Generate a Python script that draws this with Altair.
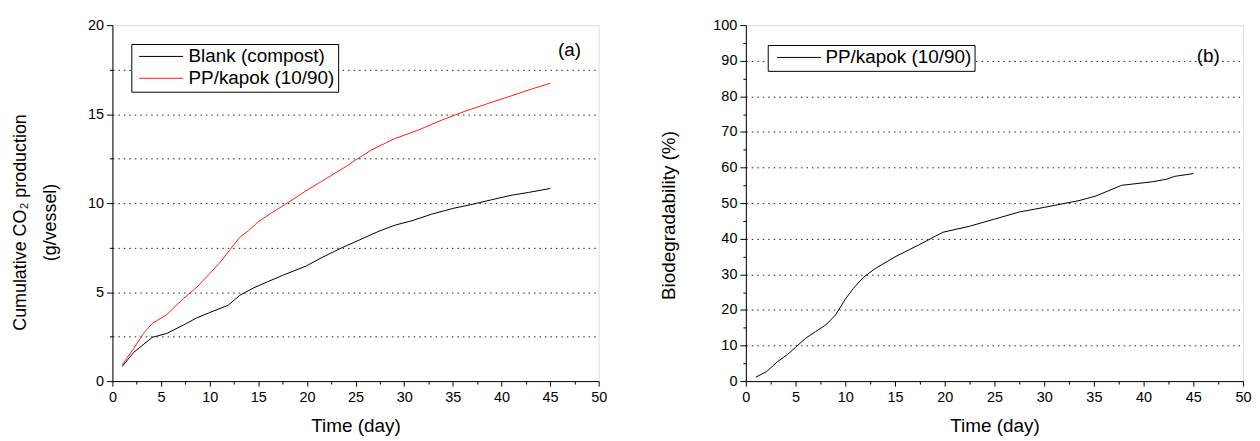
import altair as alt
import pandas as pd

# ---------------- data ----------------
blank_days = [1, 2.2, 4.1, 5.6, 7.3, 8.7, 10, 11.9, 13.1, 14.5, 15.9, 17.5, 19.9, 21.6,
              23.7, 25.4, 27.4, 29.1, 30.8, 32.9, 35, 37, 39, 41.1, 42.8, 45]
blank_co2 = [0.82, 1.62, 2.46, 2.68, 3.15, 3.56, 3.85, 4.26, 4.82, 5.23, 5.57, 5.94, 6.46, 6.96,
             7.52, 7.93, 8.42, 8.77, 9.01, 9.39, 9.70, 9.93, 10.19, 10.45, 10.60, 10.82]

pp_days = [1, 2.2, 3.2, 4.1, 5.6, 7.3, 8.7, 9.9, 11.1, 12.1, 13.1, 14, 15, 16.2, 17.4, 18.6,
           19.9, 21.3, 22.7, 24, 25, 26.6, 29, 31.4, 33.8, 36.3, 38.7, 41.1, 43.1, 45]
pp_co2 = [0.91, 1.84, 2.68, 3.24, 3.74, 4.64, 5.29, 5.98, 6.69, 7.39, 8.08, 8.45, 8.96, 9.39,
          9.80, 10.22, 10.69, 11.15, 11.62, 12.05, 12.42, 12.97, 13.62, 14.09, 14.65, 15.17,
          15.61, 16.04, 16.41, 16.73]

bio_days = [1, 2.1, 3.2, 4.2, 5, 6, 7, 8, 9, 10, 10.8, 11.8, 13, 15, 17.5, 19.8, 22.5, 25,
            27.5, 30, 33.5, 35.2, 37.8, 40.9, 42.3, 43.1, 45]
bio_pct = [1.1, 2.7, 5.5, 7.5, 9.5, 12.0, 13.9, 15.7, 18.5, 23.0, 26.0, 29.1, 31.6, 34.9, 38.4,
           41.8, 43.5, 45.5, 47.5, 48.8, 50.7, 52.0, 55.0, 56.0, 56.7, 57.5, 58.3]

series_a = ["Blank (compost)", "PP/kapok (10/90)"]
colors_a = ["#000000", "#ff1a1a"]
series_b = ["PP/kapok (10/90)"]
colors_b = ["#000000"]

x_ticks = [0, 2.5, 5, 7.5, 10, 12.5, 15, 17.5, 20, 22.5, 25, 27.5, 30, 32.5, 35, 37.5, 40,
           42.5, 45, 47.5, 50]
ya_ticks = [0, 2.5, 5, 7.5, 10, 12.5, 15, 17.5, 20]
yb_ticks = [0, 5, 10, 15, 20, 25, 30, 35, 40, 45, 50, 55, 60, 65, 70, 75, 80, 85, 90, 95, 100]

panel_labels = ["(a)", "(b)"]
label_a_pos = [47.0, 18.6]
label_b_pos = [46.5, 91.3]

FONT = "Liberation Sans"

df_a = pd.concat([
    pd.DataFrame({"day": blank_days, "value": blank_co2, "series": series_a[0]}),
    pd.DataFrame({"day": pp_days, "value": pp_co2, "series": series_a[1]}),
])
df_b = pd.DataFrame({"day": bio_days, "value": bio_pct, "series": series_b[0]})


def x_axis():
    return alt.Axis(
        values=x_ticks, tickCount=100, title="Time (day)", grid=False,
        labelExpr="datum.value % 5 === 0 ? format(datum.value, 'd') : ''", labelOverlap=False,
        tickSize={"condition": {"test": "datum.value % 5 === 0", "value": 5}, "value": 3},
        labelFont=FONT, labelFontSize=14.5, labelColor="black", labelPadding=5,
        titleFont=FONT, titleFontSize=19, titleFontWeight="normal", titleColor="black",
        titlePadding=12, domainColor="black", tickColor="black", labelFlush=False,
    )


def y_axis(vals, step, top, title, title_pad, title_y, title_size, grid_step):
    return alt.Axis(
        values=vals, tickCount=100, title=title,
        labelExpr=f"datum.value % {step} === 0 ? format(datum.value, 'd') : ''", labelOverlap=False,
        tickSize={"condition": {"test": f"datum.value % {step} === 0", "value": 6}, "value": 3},
        grid=True, gridColor="#222", gridDash=[1.5, 4], gridWidth=1,
        gridOpacity={"condition": {"test": f"datum.value === 0 || datum.value === {top} || "
                                           f"datum.value % {grid_step} !== 0",
                                   "value": 0},
                     "value": 1},
        labelFont=FONT, labelFontSize=14.5, labelColor="black", labelPadding=3,
        titleFont=FONT, titleFontSize=title_size, titleFontWeight="normal", titleColor="black",
        titlePadding=title_pad, titleY=title_y, titleLineHeight=30,
        domainColor="black", tickColor="black", labelFlush=False,
    )


def legend(lx, ly, sym_off, lab_off):
    return alt.Legend(
        title=None, orient="none", legendX=lx, legendY=ly,
        strokeColor="black", fillColor="white", padding=3, rowPadding=2,
        labelFont=FONT, labelFontSize=19, labelColor="black",
        symbolType="M-2.6,0H2.6", symbolSize=289, symbolStrokeWidth=1,
        symbolOffset=sym_off, labelOffset=lab_off,
    )


line_a = alt.Chart(df_a).mark_line(strokeWidth=1).encode(
    x=alt.X("day:Q", scale=alt.Scale(domain=[0, 50], nice=False), axis=x_axis()),
    y=alt.Y("value:Q", scale=alt.Scale(domain=[0, 20], nice=False),
            axis=y_axis(ya_ticks, 5, 20, ["Cumulative CO₂ production", "(g/vessel)"], 28, 198, 18, 2.5)),
    color=alt.Color("series:N", scale=alt.Scale(domain=series_a, range=colors_a),
                    legend=legend(19, 19, 17.5, 18)),
)
text_a = alt.Chart(pd.DataFrame({"x": [label_a_pos[0]], "y": [label_a_pos[1]], "t": [panel_labels[0]]})).mark_text(
    font=FONT, fontSize=19, color="black"
).encode(x="x:Q", y="y:Q", text="t:N")

line_b = alt.Chart(df_b).mark_line(strokeWidth=1).encode(
    x=alt.X("day:Q", scale=alt.Scale(domain=[0, 50], nice=False), axis=x_axis()),
    y=alt.Y("value:Q", scale=alt.Scale(domain=[0, 100], nice=False),
            axis=y_axis(yb_ticks, 10, 100, "Biodegradability (%)", 35, 191, 19, 10)),
    color=alt.Color("series:N", scale=alt.Scale(domain=series_b, range=colors_b),
                    legend=legend(22, 20, 19, 17)),
)
text_b = alt.Chart(pd.DataFrame({"x": [label_b_pos[0]], "y": [label_b_pos[1]], "t": [panel_labels[1]]})).mark_text(
    font=FONT, fontSize=19, color="black"
).encode(x="x:Q", y="y:Q", text="t:N")

left = alt.layer(line_a, text_a).properties(width=489, height=358)
right = alt.layer(line_b, text_b).properties(width=500, height=358)

chart = alt.hconcat(left, right, spacing=51).resolve_scale(color="independent").properties(
    padding={"left": 3, "top": 7, "right": 0, "bottom": 0}
).configure_view(stroke="black", strokeWidth=1).configure(background="white")

chart.save("out.html", embed_options={"renderer": "svg", "actions": False})
